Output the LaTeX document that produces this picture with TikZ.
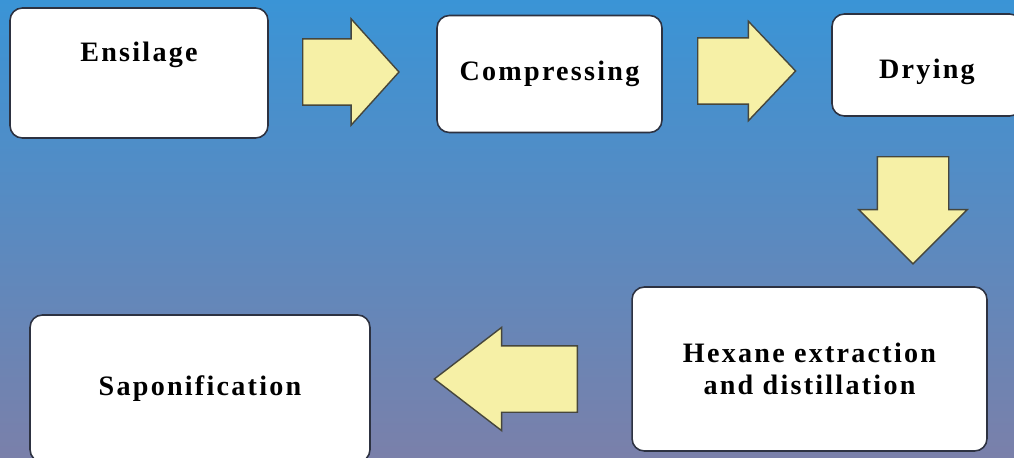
\documentclass[tikz,border=0pt]{standalone}
\usepackage{fontspec}
\setmainfont{Liberation Serif}[LetterSpace=8]
\usetikzlibrary{shapes.arrows,positioning}
\definecolor{slidetop}{RGB}{58,148,214}
\definecolor{slidemid}{RGB}{88,146,204}
\definecolor{slidebot}{RGB}{122,128,170}
\definecolor{arrowfill}{RGB}{246,240,166}
\definecolor{arrowedge}{RGB}{70,70,60}
\definecolor{boxedge}{RGB}{45,50,65}
\tikzset{
  stagebox/.style={draw=boxedge, fill=white, rounded corners=7pt, line width=0.9pt, align=center,
    font=\fontsize{16}{18.5}\selectfont\bfseries, inner sep=2pt},
  flowarrow/.style={single arrow, draw=arrowedge, fill=arrowfill, line width=0.8pt, anchor=tail,
    text width=0pt, text height=0pt, text depth=0pt, single arrow head indent=0pt}
}

\begin{document}
\begin{tikzpicture}[x=0.02cm, y=-0.02cm]
  \useasboundingbox (0,0) rectangle (1014,457);
  \clip (0,0) rectangle (1014,457);
  \shade[top color=slidetop, middle color=slidemid, bottom color=slidebot] (0,0) rectangle (1014,457);

  % process stages
  \node[stagebox, minimum width=5.16cm, minimum height=2.6cm, text height=0.4cm, text depth=0.88cm]
    (ensilage) at (139,73) {Ensilage};
  \node[stagebox, minimum width=4.5cm, minimum height=2.34cm] (compress) at (549.5,74) {Compressing};
  \node[stagebox, minimum width=3.8cm, minimum height=2.04cm, text height=0.6cm, text depth=0.08cm]
    (drying) at (927,65) {Drying};
  \node[stagebox, minimum width=7.1cm, minimum height=3.28cm] (hexane) at (809.5,369)
    {Hexane extraction\\and distillation};
  \node[stagebox, minimum width=6.8cm, minimum height=2.94cm] (sapon) at (200,388.5) {Saponification};

  % block arrows between stages
  \node[flowarrow, inner sep=0.65cm, minimum height=1.86cm, single arrow head extend=0.4cm,
    single arrow tip angle=96] (arrEC) at (302,72) {};
  \node[flowarrow, inner sep=0.65cm, minimum height=1.86cm, single arrow head extend=0.33cm,
    single arrow tip angle=93] (arrCD) at (697,71) {};
  \node[flowarrow, inner sep=0.7cm, minimum height=1.86cm, single arrow head extend=0.37cm,
    single arrow tip angle=90, shape border rotate=270] (arrDH) at (913,156) {};
  \node[flowarrow, inner sep=0.65cm, minimum height=2.86cm, single arrow head extend=0.37cm,
    single arrow tip angle=75, shape border rotate=180] (arrHS) at (578,379) {};
\end{tikzpicture}
\end{document}
